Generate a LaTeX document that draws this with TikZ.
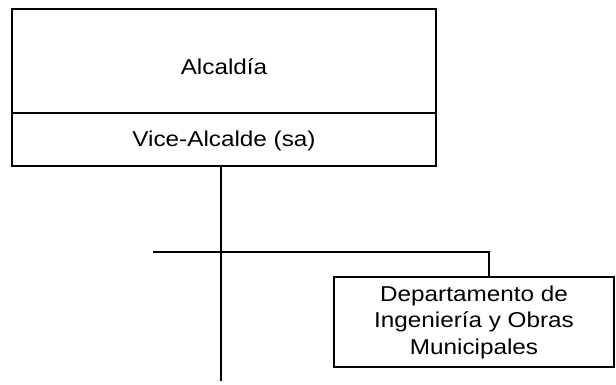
\documentclass[tikz,border=0pt]{standalone}
\usepackage{fontspec}
\setmainfont{Liberation Sans}[FakeStretch=1.13]
\usetikzlibrary{positioning}
\begin{document}
\begin{tikzpicture}[
    x=1pt, y=-1pt,
    orgbox/.style={rectangle, draw=black, line width=1.3pt, inner sep=0pt, align=center, font=\fontsize{21.5}{26.5}\selectfont},
    link/.style={draw=black, line width=1.3pt}
]
    \useasboundingbox (0,0) rectangle (616,385);

    % Nodes
    \node[orgbox, minimum width=424pt, minimum height=104pt] (alcaldia) at (224,61) {\raisebox{-6pt}[\height][\depth]{Alcaldía}};
    \node[orgbox, minimum width=424pt, minimum height=53pt, below=-1.3pt of alcaldia] (vice) {\raisebox{-1.5pt}[\height][\depth]{Vice-Alcalde (sa)}};
    \node[orgbox, minimum width=280pt, minimum height=90pt] (depto) at (474,322) {Departamento de\\Ingeniería y Obras\\Municipales};

    % Edges
    \coordinate (trunk) at (221,381);
    \coordinate (branch) at (153,252);
    \coordinate (elbow) at (489,252);
    \draw[link] (vice.south -| trunk) -- (trunk);
    \draw[link] (branch) -- (elbow) -- (depto.north -| elbow);

\end{tikzpicture}
\end{document}
